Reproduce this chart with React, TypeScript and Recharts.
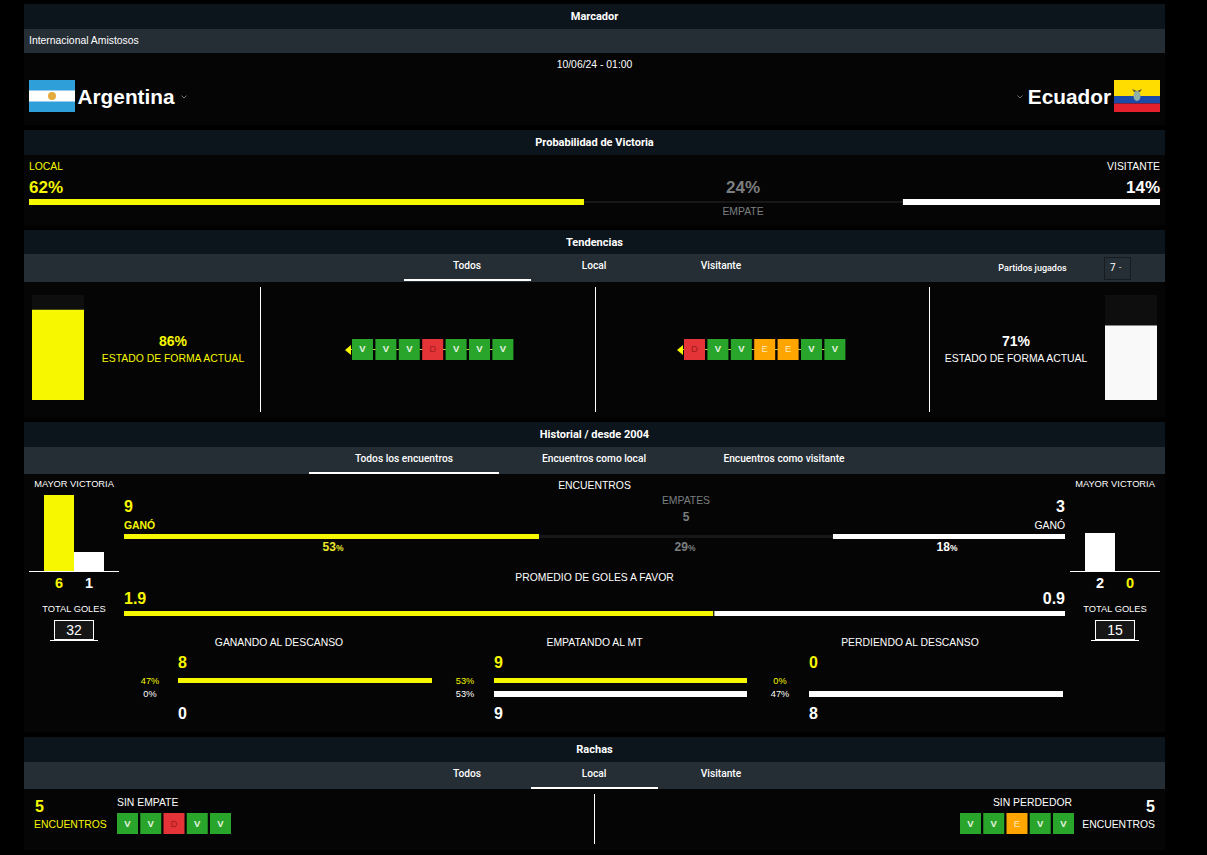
import React from "react"
import { BarChart, Bar, XAxis, YAxis, Cell, LabelList } from "recharts"

const YELLOW = "#f7f700"
const WHITE = "#ffffff"
const GREY = "#7b7f80"
const TRACK = "#171717"
const HEAD = "#0d151c"
const TAB = "#262e35"
const BODY = "#050505"
const SANS = "'Liberation Sans', Arial, sans-serif"
const TABFONT = "Roboto, sans-serif"

// Probabilidad de victoria
const probLabels = ["62%", "24%", "14%"]
const probShare = [49.07, 28.2, 22.73]

// Tendencias
const homeForm = 86
const awayForm = 71
const homeResults = ["V", "V", "V", "D", "V", "V", "V"]
const awayResults = ["D", "V", "V", "E", "E", "V", "V"]

// Historial
const biggestHome = [
  { team: "Argentina", goals: 6 },
  { team: "Ecuador", goals: 1 },
]
const biggestAway = [
  { team: "Ecuador", goals: 2 },
  { team: "Argentina", goals: 0 },
]
const meetingsShare = [44.1, 31.24, 24.66]
const goalsShare = [62.7, 37.3]
const halfWinning = [8, 0]
const halfDrawing = [9, 9]
const halfLosing = [0, 8]

// Rachas
const streakHome = ["V", "V", "D", "V", "V"]
const streakAway = ["V", "V", "E", "V", "V"]

const chipColors = { V: "#2aa52b", D: "#e53437", E: "#ffa500" }
const chipText = { V: "#e6f3e0", D: "#a01c20", E: "#ffe9b8" }

function T({ x, y, a = "left", s = 10.4, c = WHITE, b = false, w, f = SANS, children }: any) {
  const tx = a === "left" ? "0" : a === "center" ? "-50%" : "-100%"
  return (
    <div
      style={{
        position: "absolute",
        left: x,
        top: y,
        transform: `translate(${tx},-50%)`,
        fontFamily: f,
        fontSize: s,
        fontWeight: w || (b ? 700 : 400),
        color: c,
        whiteSpace: "nowrap",
        lineHeight: 1,
      }}
    >
      {children}
    </div>
  )
}

function Box({ x, y, w, h, bg, style }: any) {
  return <div style={{ position: "absolute", left: x, top: y, width: w, height: h, background: bg, ...style }} />
}

// one row stacked bar, the draw segment is a thin line inside the row
function Strip({ x, y, w, h, values, fills, max, inset = 0 }: any) {
  const row: any = { name: "row" }
  values.forEach((v: number, i: number) => (row[`s${i}`] = v))
  const thin = (p: any) => <rect x={p.x} y={p.y + inset} width={p.width} height={p.height - inset * 2} fill={p.fill} />
  return (
    <div style={{ position: "absolute", left: x, top: y }}>
      <BarChart width={w} height={h} data={[row]} layout="vertical" margin={{ top: 0, right: 0, bottom: 0, left: 0 }} barCategoryGap={0}>
        <XAxis type="number" hide domain={[0, max]} />
        <YAxis type="category" dataKey="name" hide />
        {values.map((_: number, i: number) => (
          <Bar key={i} dataKey={`s${i}`} stackId="a" fill={fills[i]} shape={fills[i] === TRACK ? thin : undefined} isAnimationActive={false} />
        ))}
      </BarChart>
    </div>
  )
}

function FormBar({ x, y, value, fill }: any) {
  return (
    <div style={{ position: "absolute", left: x, top: y }}>
      <BarChart width={52} height={105} data={[{ name: "forma", value }]} margin={{ top: 0, right: 0, bottom: 0, left: 0 }} barCategoryGap={0}>
        <XAxis dataKey="name" hide />
        <YAxis hide domain={[0, 100]} />
        <Bar dataKey="value" fill={fill} background={{ fill: "#0e0e0e" }} isAnimationActive={false} />
      </BarChart>
    </div>
  )
}

function Chips({ x, y, pitch, results }: any) {
  const data = results.map((r: string, i: number) => ({ match: i, result: r, size: 1 }))
  return (
    <div style={{ position: "absolute", left: x, top: y }}>
      <BarChart width={pitch * results.length} height={21} data={data} margin={{ top: 0, right: 0, bottom: 0, left: 0 }} barSize={21}>
        <XAxis dataKey="match" hide />
        <YAxis hide domain={[0, 1]} />
        <Bar dataKey="size" isAnimationActive={false}>
          {data.map((d: any, i: number) => (
            <Cell key={i} fill={chipColors[d.result]} />
          ))}
          <LabelList
            dataKey="result"
            content={(p: any) => (
              <text
                x={p.x + p.width / 2}
                y={p.y + p.height / 2 + 3}
                textAnchor="middle"
                fontFamily={SANS}
                fontSize={9.5}
                fontWeight={p.value === "V" ? 700 : 400}
                fill={chipText[p.value]}
              >
                {p.value}
              </text>
            )}
          />
        </Bar>
      </BarChart>
    </div>
  )
}

function Biggest({ x, data, fills }: any) {
  const tick = (p: any) => (
    <text x={p.x} y={p.y + 9} textAnchor="middle" fontFamily={SANS} fontWeight={700} fontSize={14.5} fill={fills[p.index]}>
      {data[p.index].goals}
    </text>
  )
  return (
    <div style={{ position: "absolute", left: x, top: 495 }}>
      <BarChart width={90} height={100} data={data} margin={{ top: 0, right: 0, bottom: 0, left: 0 }} barCategoryGap={0}>
        <XAxis
          dataKey="team"
          height={24}
          padding={{ left: 15, right: 15 }}
          axisLine={{ stroke: WHITE, shapeRendering: "crispEdges" }}
          tickLine={false}
          tick={tick}
          interval={0}
        />
        <YAxis hide domain={[0, 4]} allowDataOverflow />
        <Bar dataKey="goals" isAnimationActive={false}>
          {data.map((_: any, i: number) => (
            <Cell key={i} fill={fills[i]} />
          ))}
        </Bar>
      </BarChart>
    </div>
  )
}

function Arrow({ x, y }: any) {
  return (
    <div
      style={{
        position: "absolute",
        left: x,
        top: y,
        width: 0,
        height: 0,
        borderTop: "5px solid transparent",
        borderBottom: "5px solid transparent",
        borderRight: `6px solid ${YELLOW}`,
      }}
    />
  )
}

function Chevron({ x, y }: any) {
  return (
    <svg style={{ position: "absolute", left: x, top: y }} width={6} height={4}>
      <polyline points="0.5,0.5 3,3 5.5,0.5" fill="none" stroke="#8a8a8a" strokeWidth={0.8} />
    </svg>
  )
}

function Section({ y, title, tabY, tabH, bodyH }: any) {
  return (
    <>
      <Box x={24} y={y} w={1141} h={25} bg={HEAD} />
      <T x={594.5} y={y + 12} a="center" s={11} w={700} f={TABFONT}>
        {title}
      </T>
      <Box x={24} y={tabY} w={1141} h={tabH} bg={TAB} />
      <Box x={24} y={tabY + tabH} w={1141} h={bodyH} bg={BODY} />
    </>
  )
}

export default function App() {
  const homeFills = [YELLOW, WHITE]
  const awayFills = [WHITE, YELLOW]
  return (
    <div style={{ position: "absolute", left: 0, top: 0, width: 1207, height: 855, background: "#000", overflow: "hidden" }}>
      {/* Marcador */}
      <Section y={4} title="Marcador" tabY={29} tabH={24} bodyH={72} />
      <T x={29} y={41}>Internacional Amistosos</T>
      <T x={594.5} y={64.5} a="center">10/06/24 - 01:00</T>
      <svg style={{ position: "absolute", left: 29, top: 80 }} width={46} height={32}>
        <rect width={46} height={32} fill="#2e9fd8" />
        <rect y={10.5} width={46} height={11} fill="#ffffff" />
        <circle cx={23} cy={16} r={4} fill="#e3ac3c" />
      </svg>
      <T x={77.5} y={96.5} s={20.8} b>Argentina</T>
      <Chevron x={181} y={95} />
      <Chevron x={1017} y={95} />
      <T x={1111} y={96.5} a="right" s={20.8} b>Ecuador</T>
      <svg style={{ position: "absolute", left: 1114, top: 80 }} width={46} height={32}>
        <rect width={46} height={16} fill="#ffdd00" />
        <rect y={16} width={46} height={7.5} fill="#1c4aa8" />
        <rect y={23.5} width={46} height={8.5} fill="#e3202c" />
        <path d="M18 9 L23 11 L28 9 L26 12 L20 12 Z" fill="#5c5a3a" />
        <ellipse cx={23} cy={16} rx={3.5} ry={5} fill="#8fb0a8" />
      </svg>

      {/* Probabilidad */}
      <Box x={24} y={130} w={1141} h={25} bg={HEAD} />
      <T x={594.5} y={142} a="center" s={11} w={700} f={TABFONT}>Probabilidad de Victoria</T>
      <Box x={24} y={155} w={1141} h={70} bg={BODY} />
      <T x={29} y={166.5} c={YELLOW}>LOCAL</T>
      <T x={1160} y={166.5} a="right">VISITANTE</T>
      <T x={29} y={186.5} s={17} b c={YELLOW}>{probLabels[0]}</T>
      <T x={743} y={186.5} a="center" s={17} b c={GREY}>{probLabels[1]}</T>
      <T x={1160} y={186.5} a="right" s={17} b>{probLabels[2]}</T>
      <Strip x={29} y={199} w={1131} h={6} values={probShare} fills={[YELLOW, TRACK, WHITE]} max={100} inset={2} />
      <T x={743} y={212} a="center" c={GREY}>EMPATE</T>

      {/* Tendencias */}
      <Section y={230} title="Tendencias" tabY={254} tabH={28} bodyH={135} />
      <T x={467} y={265.5} a="center" s={10.2} w={500} f={TABFONT}>Todos</T>
      <T x={594} y={265.5} a="center" s={10.2} w={500} f={TABFONT}>Local</T>
      <T x={721} y={265.5} a="center" s={10.2} w={500} f={TABFONT}>Visitante</T>
      <Box x={404} y={279} w={127} h={2} bg={WHITE} />
      <T x={1032.5} y={268} a="center" s={9} w={500} f={TABFONT}>Partidos jugados</T>
      <Box x={1104} y={257} w={27} h={23} style={{ border: "1px solid #151c22", boxSizing: "border-box" }} />
      <T x={1110} y={268} s={10} f={TABFONT}>7</T>
      <T x={1119} y={267.5} s={8} f={TABFONT}>-</T>
      <FormBar x={32} y={295} value={homeForm} fill={YELLOW} />
      <T x={173} y={341} a="center" s={14} b c={YELLOW}>{homeForm}%</T>
      <T x={173} y={358.5} a="center" c={YELLOW}>ESTADO DE FORMA ACTUAL</T>
      <Box x={260} y={287} w={1} h={125} bg={WHITE} />
      <Box x={350} y={349} w={162} h={1} bg="#c8cb50" />
      <Arrow x={345} y={344.5} />
      <Chips x={350.7} y={339} pitch={23.4} results={homeResults} />
      <Box x={595} y={287} w={1} h={125} bg={WHITE} />
      <Box x={683} y={349} w={160} h={1} bg="#c8cb50" />
      <Arrow x={677} y={344.5} />
      <Chips x={682.8} y={339} pitch={23.4} results={awayResults} />
      <Box x={929} y={287} w={1} h={125} bg={WHITE} />
      <T x={1016} y={341} a="center" s={14} b>{awayForm}%</T>
      <T x={1016} y={358.5} a="center">ESTADO DE FORMA ACTUAL</T>
      <FormBar x={1105} y={295} value={awayForm} fill="#f9f9f9" />

      {/* Historial */}
      <Section y={422} title="Historial / desde 2004" tabY={447} tabH={27} bodyH={258} />
      <T x={404} y={459} a="center" s={10.2} w={500} f={TABFONT}>Todos los encuentros</T>
      <T x={594} y={459} a="center" s={10.2} w={500} f={TABFONT}>Encuentros como local</T>
      <T x={784} y={459} a="center" s={10.2} w={500} f={TABFONT}>Encuentros como visitante</T>
      <Box x={309} y={472} w={190} h={2} bg={WHITE} />

      <T x={74} y={484.5} a="center" s={9.3}>MAYOR VICTORIA</T>
      <Biggest x={29} data={biggestHome} fills={homeFills} />
      <T x={74} y={609.5} a="center" s={9.3}>TOTAL GOLES</T>
      <Box x={54} y={620} w={40} h={20} bg="#161616" style={{ border: "1px solid #fff", boxSizing: "border-box" }} />
      <Box x={50} y={640} w={48} h={1} bg={WHITE} />
      <T x={74} y={630} a="center" s={14}>32</T>

      <T x={1115} y={484.5} a="center" s={9.3}>MAYOR VICTORIA</T>
      <Biggest x={1070} data={biggestAway} fills={awayFills} />
      <T x={1115} y={609.5} a="center" s={9.3}>TOTAL GOLES</T>
      <Box x={1095} y={620} w={40} h={20} bg="#161616" style={{ border: "1px solid #fff", boxSizing: "border-box" }} />
      <Box x={1091} y={640} w={48} h={1} bg={WHITE} />
      <T x={1115} y={630} a="center" s={14}>15</T>

      <T x={594.5} y={485.5} a="center">ENCUENTROS</T>
      <T x={686} y={500.5} a="center" c={GREY}>EMPATES</T>
      <T x={686} y={516.5} a="center" s={12} b c={GREY}>5</T>
      <T x={124} y={506.5} s={16} b c={YELLOW}>9</T>
      <T x={1065} y={506.5} a="right" s={16} b>3</T>
      <T x={124} y={525.5} b c={YELLOW}>GANÓ</T>
      <T x={1065} y={525.5} a="right">GANÓ</T>
      <Strip x={124} y={534} w={941} h={5} values={meetingsShare} fills={[YELLOW, TRACK, WHITE]} max={100} inset={1} />
      <T x={333} y={547} a="center" s={12} b c="#e9e92a">53<span style={{ fontSize: 8.5 }}>%</span></T>
      <T x={685} y={547} a="center" s={12} b c={GREY}>29<span style={{ fontSize: 8.5 }}>%</span></T>
      <T x={947} y={547} a="center" s={12} b>18<span style={{ fontSize: 8.5 }}>%</span></T>

      <T x={594.5} y={577.5} a="center">PROMEDIO DE GOLES A FAVOR</T>
      <T x={124} y={598.5} s={16} b c={YELLOW}>1.9</T>
      <T x={1065} y={598.5} a="right" s={16} b>0.9</T>
      <Strip x={124} y={611} w={941} h={5} values={[goalsShare[0], 0.1, goalsShare[1]]} fills={[YELLOW, BODY, WHITE]} max={100.1} />

      <T x={279} y={642.5} a="center">GANANDO AL DESCANSO</T>
      <T x={594.5} y={642.5} a="center">EMPATANDO AL MT</T>
      <T x={910} y={642.5} a="center">PERDIENDO AL DESCANSO</T>

      <T x={178} y={662.5} s={16} b c={YELLOW}>{halfWinning[0]}</T>
      <T x={150} y={681.5} a="center" s={9.2} c={YELLOW}>47%</T>
      <T x={150} y={694.5} a="center" s={9.2}>0%</T>
      <Strip x={178} y={678} w={254} h={5} values={[halfWinning[0]]} fills={[YELLOW]} max={8} />
      <Strip x={178} y={691} w={254} h={6} values={[halfWinning[1]]} fills={[WHITE]} max={8} />
      <T x={178} y={713.5} s={16} b>{halfWinning[1]}</T>

      <T x={494} y={662.5} s={16} b c={YELLOW}>{halfDrawing[0]}</T>
      <T x={465} y={681.5} a="center" s={9.2} c={YELLOW}>53%</T>
      <T x={465} y={694.5} a="center" s={9.2}>53%</T>
      <Strip x={494} y={678} w={253} h={5} values={[halfDrawing[0]]} fills={[YELLOW]} max={9} />
      <Strip x={494} y={691} w={253} h={6} values={[halfDrawing[1]]} fills={[WHITE]} max={9} />
      <T x={494} y={713.5} s={16} b>{halfDrawing[1]}</T>

      <T x={809} y={662.5} s={16} b c={YELLOW}>{halfLosing[0]}</T>
      <T x={780} y={681.5} a="center" s={9.2} c={YELLOW}>0%</T>
      <T x={780} y={694.5} a="center" s={9.2}>47%</T>
      <Strip x={809} y={678} w={254} h={5} values={[halfLosing[0]]} fills={[YELLOW]} max={8} />
      <Strip x={809} y={691} w={254} h={6} values={[halfLosing[1]]} fills={[WHITE]} max={8} />
      <T x={809} y={713.5} s={16} b>{halfLosing[1]}</T>

      {/* Rachas */}
      <Section y={737} title="Rachas" tabY={762} tabH={27} bodyH={61} />
      <T x={467} y={773.5} a="center" s={10.2} w={500} f={TABFONT}>Todos</T>
      <T x={594} y={773.5} a="center" s={10.2} w={500} f={TABFONT}>Local</T>
      <T x={721} y={773.5} a="center" s={10.2} w={500} f={TABFONT}>Visitante</T>
      <Box x={531} y={787} w={127} h={2} bg={WHITE} />
      <T x={35} y={806.5} s={16} b c={YELLOW}>5</T>
      <T x={34} y={825} c={YELLOW}>ENCUENTROS</T>
      <T x={117} y={802.5}>SIN EMPATE</T>
      <Chips x={115.9} y={813} pitch={23.25} results={streakHome} />
      <Box x={594} y={794} w={1} h={50} bg={WHITE} />
      <T x={1072} y={802.5} a="right">SIN PERDEDOR</T>
      <Chips x={959.4} y={813} pitch={23.25} results={streakAway} />
      <T x={1155} y={806.5} a="right" s={16} b>5</T>
      <T x={1155} y={825} a="right">ENCUENTROS</T>
    </div>
  )
}
